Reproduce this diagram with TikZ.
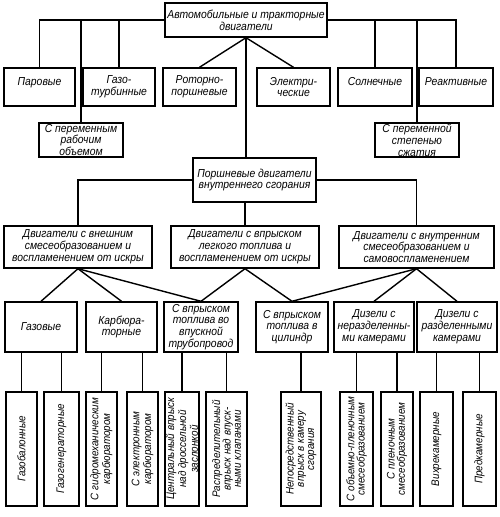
\documentclass[tikz,border=0pt]{standalone}
\usepackage{fontspec}
\setmainfont{Liberation Sans}[FakeStretch=0.9]
\usepackage{tikz}
\usetikzlibrary{calc}
\def\pxu{0.25mm}

\begin{document}
\begin{tikzpicture}[x=0.25mm, y=-0.25mm, line width=1pt, font=\itshape\fontsize{8.2}{8.4}\selectfont,
  box/.style={draw, align=center, inner sep=0pt},
  wh/.style 2 args={minimum width=#1*\pxu, minimum height=#2*\pxu},
  vbox/.style={draw, align=center, inner sep=0pt, rotate=90, font=\itshape\fontsize{7.8}{7.3}\selectfont}]
\useasboundingbox (0,0) rectangle (500,517);
\node[box, wh={162}{34}] (top) at (246,20) {Автомобильные и тракторные\\двигатели};
\node[box, wh={71}{38}] (steam) at (39.5,87) {Паровые\\\mbox{}};
\node[box, wh={72}{38}] (gturb) at (119,87) {Газо-\\турбинные};
\node[box, wh={73}{38}] (rotor) at (199.5,87) {Роторно-\\поршневые};
\node[box, wh={73}{38}] (elec) at (293.5,87) {Электри-\\ческие};
\node[box, wh={74}{38}] (solar) at (375,87) {Солнечные\\\mbox{}};
\node[box, wh={74}{38}] (jet) at (456,87) {Реактивные\\\mbox{}};
\node[box, wh={84}{34}] (varvol) at (81,140) {С переменным\\рабочим\\объемом};
\node[box, wh={84}{34}] (varcr) at (417,140) {С переменной\\степенью\\сжатия};
\node[box, wh={123}{44}] (piston) at (254.5,180) {Поршневые двигатели\\внутреннего сгорания};
\node[box, wh={148}{42}] (extmix) at (78,247) {Двигатели с внешним\\смесеобразованием и\\воспламенением от искры};
\node[box, wh={148}{42}] (inject) at (245,247) {Двигатели с впрыском\\легкого топлива и\\воспламенением от искры};
\node[box, wh={155}{42}] (intmix) at (416.5,247) {Двигатели с внутренним\\смесеобразованием и\\самовоспламенением};
\node[box, wh={72}{50}] (gas) at (41,327) {Газовые};
\node[box, wh={71}{50}] (carb) at (121.5,327) {Карбюра-\\торные};
\node[box, wh={74}{50}] (manif) at (201,327) {С впрыском\\топлива во\\впускной\\трубопровод};
\node[box, wh={72}{50}] (cyl) at (292,327) {С впрыском\\топлива в\\цилиндр};
\node[box, wh={80}{50}] (undiv) at (374,327) {Дизели с\\неразделенны-\\ми камерами};
\node[box, wh={80}{50}] (div) at (457,327) {Дизели с\\разделенными\\камерами};
\node[vbox, wh={114}{31}] (gbal) at (21.5,449) {Газобалонные};
\node[vbox, wh={114}{35}] (ggen) at (61.5,449) {Газогенераторные};
\node[vbox, wh={114}{31}] (hydro) at (101.5,449) {С гидромеханическим\\карбюратором};
\node[vbox, wh={114}{31}] (elcarb) at (142.5,449) {С электронным\\карбюратором};
\node[vbox, wh={114}{34}] (central) at (182,449) {Центральный впрыск\\над дроссельной\\заслонкой};
\node[vbox, wh={114}{41}] (distr) at (226.5,449) {Распределительный\\впрыск над впуск-\\ными клапанами};
\node[vbox, wh={114}{40}] (direct) at (301,449) {Непосредственный\\впрыск в камеру\\сгорания};
\node[vbox, wh={114}{33}] (volfilm) at (356.5,449) {С объемно-пленочным\\смесеобразованием};
\node[vbox, wh={114}{32}] (film) at (397,449) {С пленочным\\смесеобразованием};
\node[vbox, wh={114}{33}] (swirl) at (436.5,449) {Вихрекамерные};
\node[vbox, wh={114}{33}] (prech) at (479.5,449) {Предкамерные};
\draw (steam.north) |- (top.west); \draw (gturb.north) |- (top.west); \draw (varvol.north) |- (top.west);
\draw (solar.north) |- (top.east); \draw (jet.north) |- (top.east); \draw (varcr.north) |- (top.east);
\draw (top.south) -- (rotor.north); \draw (top.south) -- (elec.north); \draw (top.south) -- (top.south |- piston.north);
\draw (extmix.north) |- (piston.west); \draw (intmix.north) |- (piston.east); \draw (inject.north) -- (inject.north |- piston.south);
\draw (extmix.south) -- (gas.north); \draw (extmix.south) -- (carb.north); \draw (extmix.south) -- (manif.north);
\draw (inject.south) -- (manif.north); \draw (inject.south) -- (cyl.north);
\draw (intmix.south) -- (cyl.north); \draw (intmix.south) -- (undiv.north); \draw (intmix.south) -- (div.north);
\draw (gbal.east) -- (gbal.east |- gas.south); \draw (ggen.east) -- (ggen.east |- gas.south);
\draw (hydro.east) -- (hydro.east |- carb.south); \draw (elcarb.east) -- (elcarb.east |- carb.south);
\draw (central.east) -- (central.east |- manif.south); \draw (distr.east) -- (distr.east |- manif.south);
\draw (direct.east) -- (direct.east |- cyl.south);
\draw (volfilm.east) -- (volfilm.east |- undiv.south); \draw (film.east) -- (film.east |- undiv.south);
\draw (swirl.east) -- (swirl.east |- div.south); \draw (prech.east) -- (prech.east |- div.south);
\end{tikzpicture}
\end{document}
